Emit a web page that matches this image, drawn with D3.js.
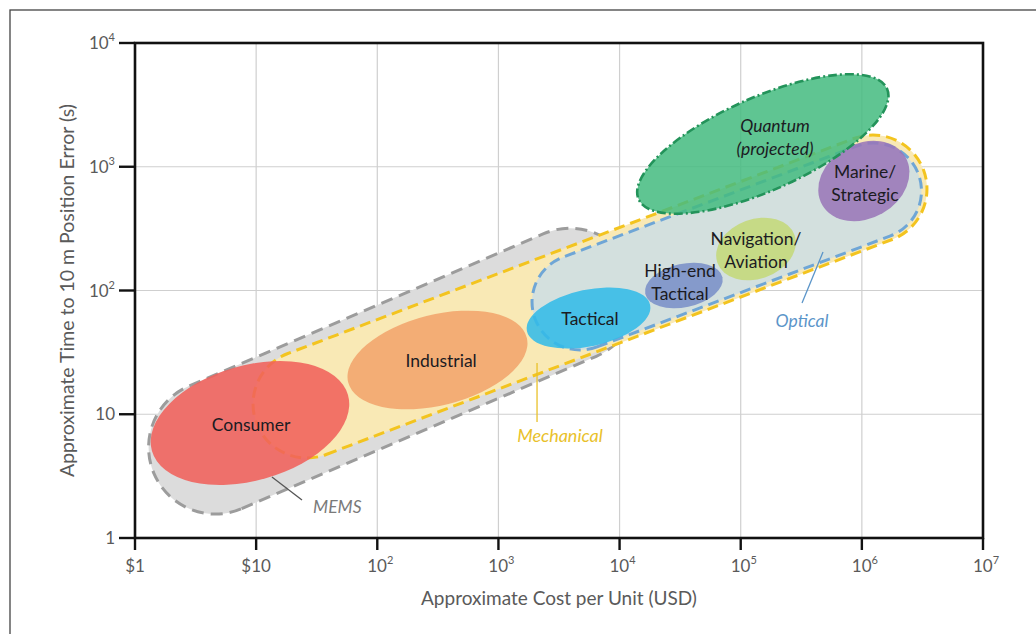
<!DOCTYPE html>
<html>
<head>
<meta charset="utf-8">
<script src="https://cdn.jsdelivr.net/npm/d3@7"></script>
<style>
  html, body { margin: 0; padding: 0; background: #fff; }
  svg { display: block; font-family: Lato, "Open Sans", sans-serif; }
</style>
</head>
<body>
<svg id="chart" width="1036" height="634"></svg>
<script>
// ---- Axes: decades of cost (USD) and of time to 10 m error (s) ----
const xTicks = [1, 10, 1e2, 1e3, 1e4, 1e5, 1e6, 1e7];
const xTickLabels = [["$1", ""], ["$10", ""], ["10", "2"], ["10", "3"], ["10", "4"], ["10", "5"], ["10", "6"], ["10", "7"]];
const yTicks = [1, 10, 1e2, 1e3, 1e4];
const yTickLabels = [["1", ""], ["10", ""], ["10", "2"], ["10", "3"], ["10", "4"]];
const xTitle = "Approximate Cost per Unit (USD)";
const yTitle = "Approximate Time to 10 m Position Error (s)";

// ---- Sensor technologies: bands from [cost, time] to [cost, time], half-thickness in decades ----
const techNames = ["MEMS", "Mechanical", "Optical"];
const techStart = [[4.6, 5.4], [26.3, 12.1], [4714, 80.7]];
const techEnd = [[3900, 92], [1.236e6, 661], [1.248e6, 637]];
const techHalfWidth = [0.545, 0.441, 0.392];

// ---- Performance grades: ellipse spans from [cost, time] to [cost, time], half-height in decades ----
const gradeNames = ["Consumer", "Industrial", "Tactical", "High-end\nTactical", "Navigation/\nAviation", "Marine/\nStrategic", "Quantum\n(projected)"];
const gradeStart = [[1.38, 5.05], [57.5, 18.1], [1718, 47.0], [16290, 94.2], [64300, 166.8], [470900, 491], [14360, 546]];
const gradeEnd = [[57.3, 14.3], [1715, 41.6], [17870, 76.5], [70630, 127.9], [278000, 280.8], [2.29e6, 1199], [1.614e6, 4275]];
const gradeHalfWidth = [0.47, 0.37, 0.231, 0.177, 0.2435, 0.305, 0.38];
const gradeLabelAt = [[9.07, 8.19], [336, 26.9], [5700, 58.9], [31550, 115], [133700, 212], [1.062e6, 739], [191900, 1739]];

// ---- Technology callouts: leader from [cost, time] to [cost, time], text at [cost, time] ----
const calloutNames = ["MEMS", "Mechanical", "Optical"];
const calloutFrom = [[13.5, 3.11], [2083, 25.9], [478000, 204.7]];
const calloutTo = [[23.9, 2.03], [2083, 8.66], [320700, 79.3]];
const calloutTextAt = [[29.5, 1.59], [3223, 5.97], [320700, 50.7]];

// ---- Styling ----
const techFill = ["#dcdcdc", "#f9e9b5", "#c9dde9"];
const techFillOpacity = [1, 1, 0.8];
const techStroke = ["#9c9c9c", "#f3c41f", "#6fa6d6"];
const techDash = ["12,7", "11,6", "11,6"];
const gradeFill = ["#f0615b", "#f1a46c", "#33bbe8", "#7a90c8", "#c4d87a", "#9a76b8", "#45bb80"];
const calloutColor = ["#7a7a7a", "#e9c12a", "#5b95c9"];
const calloutAnchor = ["start", "middle", "middle"];

const svg = d3.select("#chart");
const W = 1036, H = 634;

svg.append("rect").attr("width", W).attr("height", H).attr("fill", "#fff");
// page frame (left and top edges visible)
svg.append("rect").attr("x", 10).attr("y", 10).attr("width", W + 20).attr("height", H + 20)
  .attr("fill", "none").attr("stroke", "#444").attr("stroke-width", 1.3);

const x = d3.scaleLog().domain([1, 1e7]).range([135, 983]);
const y = d3.scaleLog().domain([1, 1e4]).range([538, 43]);
const pxPerDecade = (x(10) - x(1) + y(1) - y(10)) / 2;

// grid
const grid = svg.append("g").attr("stroke", "#cfcfcf").attr("stroke-width", 1.2);
grid.selectAll("line.v").data(xTicks.slice(1, -1)).join("line")
  .attr("x1", d => x(d)).attr("x2", d => x(d)).attr("y1", y(1e4)).attr("y2", y(1));
grid.selectAll("line.h").data(yTicks.slice(1, -1)).join("line")
  .attr("y1", d => y(d)).attr("y2", d => y(d)).attr("x1", x(1)).attr("x2", x(1e7));

// technology bands (stadium shapes in log-log space)
function bandPath(p, q, halfDec) {
  const x1 = x(p[0]), y1 = y(p[1]), x2 = x(q[0]), y2 = y(q[1]);
  const r = halfDec * pxPerDecade;
  const len = Math.hypot(x2 - x1, y2 - y1);
  const ux = (x2 - x1) / len, uy = (y2 - y1) / len;
  const nx = -uy * r, ny = ux * r;
  return `M${x1 + nx},${y1 + ny} L${x2 + nx},${y2 + ny} ` +
    `A${r},${r} 0 0 0 ${x2 - nx},${y2 - ny} L${x1 - nx},${y1 - ny} ` +
    `A${r},${r} 0 0 0 ${x1 + nx},${y1 + ny} Z`;
}
const bands = svg.append("g");
techNames.forEach((name, i) => {
  bands.append("path")
    .attr("d", bandPath(techStart[i], techEnd[i], techHalfWidth[i]))
    .attr("fill", techFill[i]).attr("fill-opacity", techFillOpacity[i])
    .attr("stroke", techStroke[i]).attr("stroke-width", 3)
    .attr("stroke-dasharray", techDash[i]);
});

// performance grade ellipses
const grades = svg.append("g");
gradeNames.forEach((name, i) => {
  const x1 = x(gradeStart[i][0]), y1 = y(gradeStart[i][1]);
  const x2 = x(gradeEnd[i][0]), y2 = y(gradeEnd[i][1]);
  const cx = (x1 + x2) / 2, cy = (y1 + y2) / 2;
  const rx = Math.hypot(x2 - x1, y2 - y1) / 2;
  const ry = gradeHalfWidth[i] * pxPerDecade;
  const ang = Math.atan2(y2 - y1, x2 - x1) * 180 / Math.PI;
  const isQuantum = name.startsWith("Quantum");
  grades.append("ellipse")
    .attr("transform", `translate(${cx},${cy}) rotate(${ang})`)
    .attr("rx", rx).attr("ry", ry)
    .attr("fill", gradeFill[i]).attr("fill-opacity", isQuantum ? 0.86 : 0.88)
    .attr("stroke", isQuantum ? "#23935a" : "none")
    .attr("stroke-width", isQuantum ? 2.6 : 0)
    .attr("stroke-dasharray", isQuantum ? "9,3,2,3" : null);
});

// grade labels
gradeNames.forEach((name, i) => {
  const lines = name.split("\n");
  const lx = x(gradeLabelAt[i][0]), ly = y(gradeLabelAt[i][1]);
  const t = svg.append("text")
    .attr("x", lx).attr("y", ly)
    .attr("text-anchor", "middle")
    .attr("font-size", 17.5)
    .attr("fill", "#1b1b22")
    .attr("font-style", name.startsWith("Quantum") ? "italic" : "normal");
  const lh = 23;
  lines.forEach((ln, k) => {
    t.append("tspan").attr("x", lx)
      .attr("y", ly + (k - (lines.length - 1) / 2) * lh + 6)
      .text(ln);
  });
});

// callouts
calloutNames.forEach((name, i) => {
  svg.append("line")
    .attr("x1", x(calloutFrom[i][0])).attr("y1", y(calloutFrom[i][1]))
    .attr("x2", x(calloutTo[i][0])).attr("y2", y(calloutTo[i][1]))
    .attr("stroke", i === 0 ? "#555" : calloutColor[i]).attr("stroke-width", 1.3);
  svg.append("text")
    .attr("x", x(calloutTextAt[i][0])).attr("y", y(calloutTextAt[i][1]))
    .attr("text-anchor", calloutAnchor[i])
    .attr("font-size", i === 1 ? 18 : 17.5)
    .attr("font-style", "italic")
    .attr("fill", calloutColor[i])
    .text(name);
});

// plot frame
svg.append("rect")
  .attr("x", x(1)).attr("y", y(1e4))
  .attr("width", x(1e7) - x(1)).attr("height", y(1) - y(1e4))
  .attr("fill", "none").attr("stroke", "#111").attr("stroke-width", 2.6);

// ticks
const axisG = svg.append("g");
axisG.selectAll("line.xt").data(xTicks).join("line")
  .attr("x1", d => x(d)).attr("x2", d => x(d))
  .attr("y1", y(1)).attr("y2", y(1) + 12)
  .attr("stroke", "#111").attr("stroke-width", 2.4);
axisG.selectAll("line.yt").data(yTicks).join("line")
  .attr("y1", d => y(d)).attr("y2", d => y(d))
  .attr("x1", x(1) - 16).attr("x2", x(1))
  .attr("stroke", "#111").attr("stroke-width", 2.4);

function supLabel(sel, parts) {
  sel.append("tspan").text(parts[0]);
  if (parts[1]) {
    sel.append("tspan").attr("dy", -8).attr("font-size", 11).text(parts[1]);
  }
}
const labColor = "#5a5a5a";
xTicks.forEach((d, i) => {
  const t = axisG.append("text")
    .attr("x", x(d) + (xTickLabels[i][1] ? 3 : 0)).attr("y", 572)
    .attr("text-anchor", "middle").attr("font-size", 17).attr("fill", labColor);
  supLabel(t, xTickLabels[i]);
});
yTicks.forEach((d, i) => {
  const t = axisG.append("text")
    .attr("x", 115).attr("y", y(d) + 6)
    .attr("text-anchor", "end").attr("font-size", 17).attr("fill", labColor);
  supLabel(t, yTickLabels[i]);
});

// axis titles
svg.append("text")
  .attr("x", (x(1) + x(1e7)) / 2).attr("y", 605)
  .attr("text-anchor", "middle").attr("font-size", 19).attr("fill", labColor)
  .text(xTitle);
svg.append("text")
  .attr("transform", `translate(74,${(y(1) + y(1e4)) / 2}) rotate(-90)`)
  .attr("text-anchor", "middle").attr("font-size", 19.5).attr("fill", labColor)
  .text(yTitle);
</script>
</body>
</html>
